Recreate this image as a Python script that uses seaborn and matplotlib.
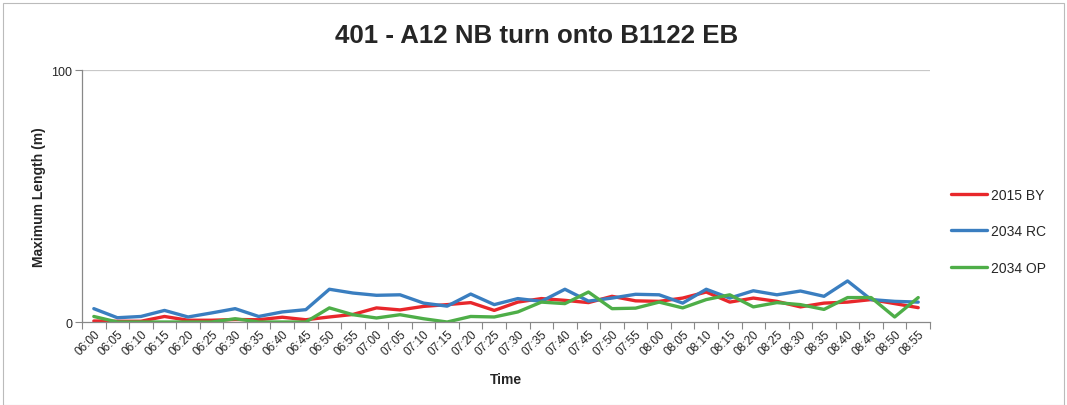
import matplotlib
matplotlib.use("Agg")
import matplotlib.pyplot as plt
import seaborn as sns
import pandas as pd
import numpy as np
from matplotlib.patches import Rectangle

times = ["06:00","06:05","06:10","06:15","06:20","06:25","06:30","06:35","06:40","06:45",
         "06:50","06:55","07:00","07:05","07:10","07:15","07:20","07:25","07:30","07:35",
         "07:40","07:45","07:50","07:55","08:00","08:05","08:10","08:15","08:20","08:25",
         "08:30","08:35","08:40","08:45","08:50","08:55"]
by2015 = [0.4, 0.3, 0.3, 2.2, 0.7, 0.7, 1.0, 0.9, 1.9, 0.9,
          2.0, 3.0, 5.6, 4.8, 6.2, 6.9, 7.7, 4.6, 7.9, 9.3,
          8.6, 7.7, 10.2, 8.4, 8.2, 9.5, 11.9, 7.9, 9.5, 8.2,
          6.0, 7.5, 7.9, 8.9, 7.3, 5.7]
rc2034 = [5.3, 1.7, 2.2, 4.6, 2.0, 3.6, 5.3, 2.2, 4.0, 4.9,
          13.0, 11.5, 10.6, 10.8, 7.5, 6.3, 11.1, 6.9, 9.3, 8.2,
          13.0, 8.3, 9.5, 11.0, 10.8, 7.5, 13.0, 9.5, 12.4, 10.8,
          12.3, 10.2, 16.3, 8.9, 8.2, 7.9]
op2034 = [2.2, 0.0, 0.0, 0.0, 0.0, 0.0, 1.3, 0.0, 0.0, 0.0,
          5.6, 2.9, 1.6, 2.9, 1.3, 0.0, 2.2, 2.0, 4.0, 7.9,
          7.3, 11.9, 5.3, 5.5, 7.9, 5.6, 8.9, 10.8, 6.0, 7.7,
          6.9, 5.0, 9.7, 9.7, 2.0, 9.7]
series = ["2015 BY", "2034 RC", "2034 OP"]
colors = ["#E8272B", "#3A7EC0", "#4EAE48"]

df = pd.DataFrame({
    "idx": list(range(len(times))) * 3,
    "value": by2015 + rc2034 + op2034,
    "series": [series[0]] * len(times) + [series[1]] * len(times) + [series[2]] * len(times),
})

sns.set_theme(style="white")
plt.rcParams["font.family"] = ["Liberation Sans", "DejaVu Sans"]

fig = plt.figure(figsize=(10.67, 4.06), dpi=100)
ax = fig.add_axes([0.0769, 0.2044, 0.7947, 0.6207])

sns.lineplot(data=df, x="idx", y="value", hue="series", palette=colors,
             hue_order=series, linewidth=2.4, ax=ax, legend=True)

ax.set_xlim(-0.5, len(times) - 0.5)
ax.set_ylim(0, 100)
ax.set_yticks([0, 100])
ax.set_yticklabels(["0", "100"], fontsize=9)
ax.axhline(100, color="#C8C8C8", lw=0.9, zorder=0)

ax.set_xticks(range(len(times)))
ax.set_xticklabels(times, rotation=45, fontsize=8.5, ha="right", rotation_mode="anchor")
ax.set_xticks(np.arange(-0.5, len(times), 1), minor=True)
ax.tick_params(axis="x", which="major", length=0, pad=4)
ax.tick_params(axis="x", which="minor", length=5, color="#888888", width=0.8, bottom=True)
ax.tick_params(axis="y", which="major", length=5, color="#888888", width=0.8, left=True, pad=2)

for s in ["top", "right"]:
    ax.spines[s].set_visible(False)
for s in ["left", "bottom"]:
    ax.spines[s].set_color("#888888")
    ax.spines[s].set_linewidth(0.9)

ax.set_xlabel("Time", fontsize=10, fontweight="bold", labelpad=11)
ax.set_ylabel("Maximum Length (m)", fontsize=10, fontweight="bold", labelpad=4)
fig.text(0.503, 0.912, "401 - A12 NB turn onto B1122 EB", fontsize=18.6,
         fontweight="bold", ha="center", va="center")

leg = ax.legend(loc="center left", bbox_to_anchor=(1.01, 0.36), frameon=False,
                fontsize=10, handlelength=2.6, labelspacing=1.6, handletextpad=0.3)

fig.patches.append(Rectangle((0.003, 0.0), 0.994, 0.99, transform=fig.transFigure,
                             fill=False, edgecolor="#BBBBBB", lw=0.8))

fig.savefig("out.png", dpi=100)
